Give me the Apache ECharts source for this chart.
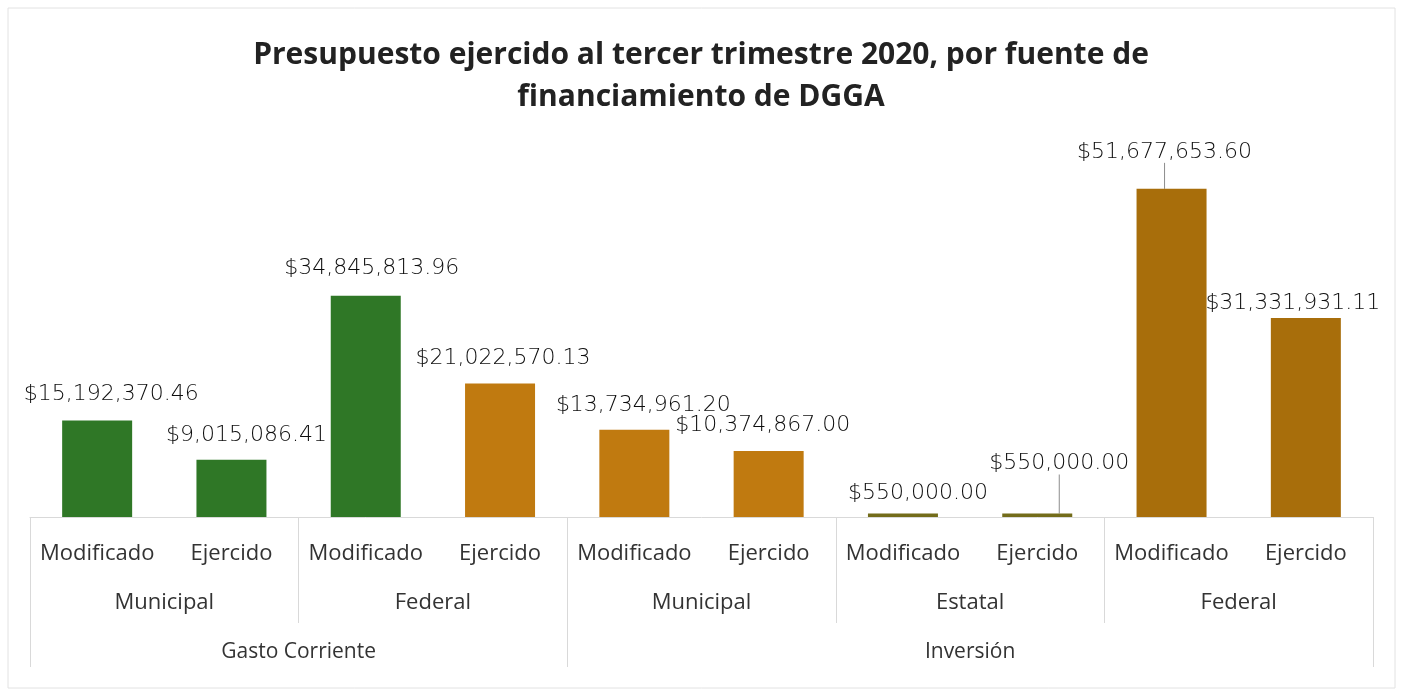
<!DOCTYPE html>
<html>
<head>
<meta charset="utf-8">
<title>Presupuesto ejercido DGGA</title>
<script src="https://cdn.jsdelivr.net/npm/echarts@6/dist/echarts.min.js"></script>
<style>
  html, body { margin: 0; padding: 0; background: #fff; }
  #chart { width: 1402px; height: 694px; }
</style>
</head>
<body>
<div id="chart"></div>
<script>
// datos
const conceptos = ["Modificado", "Ejercido", "Modificado", "Ejercido", "Modificado", "Ejercido", "Modificado", "Ejercido", "Modificado", "Ejercido"];
const fuentes = ["Municipal", "Federal", "Municipal", "Estatal", "Federal"];
const fuenteCapitulo = [0, 0, 1, 1, 1]; // a que capitulo pertenece cada fuente
const capitulos = ["Gasto Corriente", "Inversión"];
const montos = [15192370.46, 9015086.41, 34845813.96, 21022570.13, 13734961.20, 10374867.00, 550000.00, 550000.00, 51677653.60, 31331931.11];

// estilo de cada barra
const colores = ["#2f7726", "#2f7726", "#2f7726", "#c07a10", "#c07a10", "#c07a10", "#736c1a", "#736c1a", "#a86e0b", "#a86e0b"];
const despX = [14, 15, 6, 3, 9, -6, 15, 22, -7, -13];
const despY = [0, 2, -1, 1, 1, 0, 6, -24, -11, 11];
const conGuia = [false, false, false, false, false, false, false, true, true, false];

function moneda(v) {
    return "$" + v.toFixed(2).replace(/\B(?=(\d{3})+(?!\d))/g, ",");
}

// limites y centros de cada capitulo, en unidades de barra
const barrasPorFuente = conceptos.length / fuentes.length;
const limites = [0];
const centros = [];
capitulos.forEach((c, k) => {
    const n = fuenteCapitulo.filter((f) => f === k).length * barrasPorFuente;
    const ini = limites[limites.length - 1];
    centros.push(ini + n / 2);
    limites.push(ini + n);
});

const chart = echarts.init(document.getElementById("chart"));
const gris = "#d9d9d9";
const textoEje = "#333333";

chart.setOption({
    backgroundColor: "#ffffff",
    animation: false,
    title: {
        text: "Presupuesto ejercido al tercer trimestre 2020, por fuente de\nfinanciamiento de DGGA",
        left: "center",
        top: 29,
        textStyle: {
            fontFamily: "Open Sans",
            fontWeight: "bold",
            fontSize: 30,
            lineHeight: 42,
            color: "#222222"
        }
    },
    graphic: [{
        type: "rect",
        shape: { x: 8, y: 8, width: 1387, height: 680 },
        style: { fill: "none", stroke: "#e2e2e2", lineWidth: 1 },
        silent: true
    }],
    grid: {
        left: 30,
        right: 29,
        top: 136,
        bottom: 177
    },
    xAxis: [
        {
            type: "category",
            data: conceptos,
            position: "bottom",
            axisLine: { show: true, lineStyle: { color: gris } },
            axisTick: { show: false },
            axisLabel: {
                interval: 0,
                margin: 26,
                fontFamily: "Open Sans",
                fontSize: 22,
                color: textoEje
            }
        },
        {
            type: "category",
            data: fuentes,
            position: "bottom",
            axisLine: { show: false },
            axisTick: { show: true, length: 106, lineStyle: { color: gris } },
            axisLabel: {
                interval: 0,
                margin: 75,
                fontFamily: "Open Sans",
                fontSize: 22,
                color: textoEje
            }
        },
        {
            type: "value",
            min: 0,
            max: conceptos.length,
            position: "bottom",
            axisLine: { show: false },
            splitLine: { show: false },
            axisTick: {
                show: true,
                length: 150,
                customValues: limites,
                lineStyle: { color: gris }
            },
            axisLabel: {
                margin: 125,
                customValues: centros,
                formatter: (v) => capitulos[centros.indexOf(v)],
                fontFamily: "Open Sans",
                fontSize: 21,
                color: textoEje
            }
        }
    ],
    yAxis: {
        type: "value",
        min: 0,
        max: 60000000,
        show: false,
        splitLine: { show: false }
    },
    series: [{
        type: "bar",
        xAxisIndex: 0,
        barWidth: 70,
        data: montos.map((v, i) => ({
            value: v,
            itemStyle: { color: colores[i] },
            labelLine: { show: conGuia[i] }
        })),
        label: {
            show: true,
            position: "top",
            distance: 15,
            formatter: (p) => moneda(p.value),
            fontFamily: "DejaVu Sans",
            fontWeight: 200,
            fontSize: 22,
            color: "#0d0d0d"
        },
        labelLine: {
            lineStyle: { color: "#8c8c8c", width: 1 }
        },
        labelLayout: (p) => ({
            dx: despX[p.dataIndex],
            dy: despY[p.dataIndex]
        })
    }]
});
</script>
</body>
</html>
